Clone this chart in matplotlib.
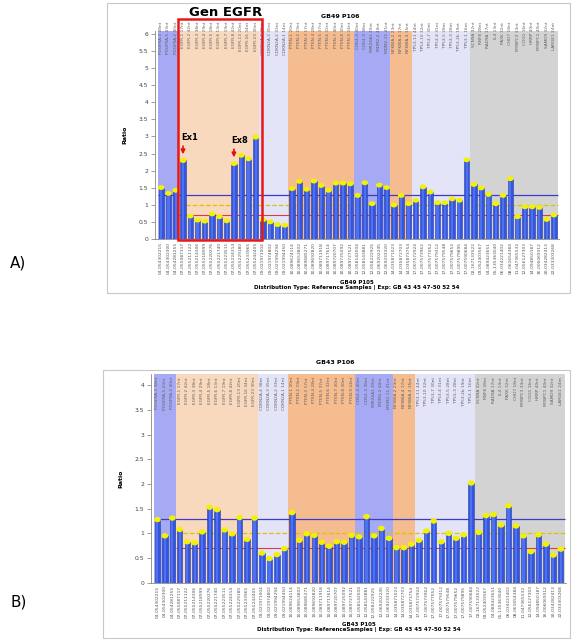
import numpy as np
import matplotlib.pyplot as plt
from matplotlib.patches import Ellipse, Rectangle

# figure size in pixels (dpi 100)
W, H = 573, 643

# probe names (top labels) and chromosome positions (bottom labels)
probes = ["PDGFRA-3 38nt", "PDGFRA-5 43nt", "PDGFRA-2 40nt",
          "EGFR-1 17nt", "EGFR-2 42nt", "EGFR-3 38nt", "EGFR-4 29nt", "EGFR-5 18nt",
          "EGFR-6 13nt", "EGFR-7 19nt", "EGFR-8 42nt", "EGFR-13 20nt", "EGFR-16 34nt",
          "EGFR-23 30nt",
          "CDKN2A-4 38nt", "CDKN2A-3 35nt", "CDKN2A-2 33nt", "CDKN2A-1 14nt",
          "PTEN-1 20nt", "PTEN-2 19nt", "PTEN-3 17nt", "PTEN-4 28nt", "PTEN-5 37nt",
          "PTEN-6 32nt", "PTEN-7 40nt", "PTEN-8 30nt", "PTEN-9 24nt",
          "CDK4-4 40nt", "CDK4-3 38nt", "MIR26A1 49nt", "MDM2-2 40nt", "MDM2-11 41nt",
          "NFKBIA-2 23nt", "NFKBIA-4 17nt", "NFKBIA-3 15nt",
          "TP53-11 44nt", "TP53-10 32nt", "TP53-7 30nt", "TP53-4 31nt", "TP53-5 28nt",
          "TP53-3 28nt", "TP53-2b 19nt", "TP53-1 16nt",
          "SCN9A 32nt", "RNF8 28nt", "RAD9A 17nt", "IL4 13nt", "PAX6 32nt", "CHD7 18nt",
          "MYBPC3 33nt", "COG1 16nt", "HRRP 40nt", "MYBPC1 40nt", "SAMD9 32nt",
          "LARGE1 24nt"]

positions = ["04-054302215", "04-054302300", "04-054281255",
             "07-055087117", "07-055211122", "07-055214306", "07-055218999",
             "07-055220276", "07-055221740", "07-055223511", "07-055224314",
             "07-055229180", "07-055233965", "07-055242405",
             "09-021971004", "09-021974802", "09-021994294", "09-021994450",
             "10-089624114", "10-089653802", "10-089685271", "10-089692820",
             "10-089711918", "10-089717614", "10-089720707", "10-089725092",
             "10-089727521",
             "12-058142004", "12-058143881", "12-058222925", "12-069202245",
             "12-069233320",
             "14-035871023", "14-035872703", "14-035873754",
             "17-007572924", "17-007573962", "17-007577052", "17-007579312",
             "17-007579548", "17-007579652", "17-007579895", "17-007590684",
             "02-167133522", "03-052403567", "04-089423651", "05-135363040",
             "06-034221402", "08-061654384", "11-047365532", "12-056127303",
             "14-094850187", "16-006069312", "20-034282413", "22-033303268"]

# background blocks (number of probes per gene group)
group_sizes = [3, 11, 4, 9, 5, 3, 8, 12]
group_colors = ['#a6aaf4', '#f9d9be', '#e4e4f9', '#f5bc90',
                '#a6aaf4', '#f5bc90', '#e4e4f9', '#d3d3d3']

# ratios
ratio_a = [1.51, 1.34, 1.43,
           2.30, 0.68, 0.56, 0.53, 0.74, 0.66, 0.54, 2.21, 2.45, 2.35, 2.98,
           0.57, 0.51, 0.43, 0.41,
           1.48, 1.69, 1.46, 1.70, 1.57, 1.43, 1.64, 1.64, 1.62,
           1.28, 1.65, 1.04, 1.58, 1.51,
           1.00, 1.28, 1.04,
           1.14, 1.53, 1.38, 1.07, 1.07, 1.18, 1.14, 2.32,
           1.60, 1.50, 1.31, 1.04, 1.28, 1.77, 0.66, 0.95, 0.95, 0.93, 0.58, 0.71]

ratio_b = [1.28, 0.95, 1.31,
           1.08, 0.83, 0.81, 1.03, 1.53, 1.48, 1.07, 0.99, 1.32, 0.88, 1.31,
           0.60, 0.49, 0.57, 0.69,
           1.42, 0.86, 0.99, 0.96, 0.82, 0.74, 0.83, 0.82, 0.96,
           0.93, 1.34, 0.95, 1.10, 0.90,
           0.71, 0.71, 0.78,
           0.86, 1.05, 1.25, 0.83, 1.00, 0.90, 0.97, 2.02,
           1.02, 1.36, 1.38, 1.17, 1.56, 1.15, 0.95, 0.63, 0.97, 0.78, 0.56, 0.68]

upper_limit, mean_line, lower_limit = 1.3, 1.0, 0.7
exon_marks = {"Ex1": 3, "Ex8": 10}


def fx(px):
    return px / W


def fy(py):
    return 1 - py / H


def draw_panel(ax, ratios, ymax, step, cap_h, top_y, bot_pad):
    n = len(ratios)
    x = np.arange(n)

    # coloured gene blocks
    start = -0.5
    for size, col in zip(group_sizes, group_colors):
        ax.axvspan(start, start + size, color=col, lw=0, zorder=0)
        start += size

    # reference lines
    ax.hlines(upper_limit, -0.5, n - 0.5, color='#3c3cc8', lw=0.9, zorder=1)
    ax.hlines(mean_line, 2.5, n - 0.5, color='#d8c400', lw=0.9, ls='--', zorder=1)
    ax.hlines(lower_limit, 2.5, n - 0.5, color='#e03a3a', lw=0.8, zorder=1)

    # bars with yellow caps
    ax.bar(x, ratios, width=0.72, color='#3556dc', edgecolor='#2a3fa8',
           lw=0.4, zorder=3)
    ax.bar(x, ratios, width=0.3, color='#4c72f2', lw=0, zorder=3)
    for xi, v in zip(x, ratios):
        ax.add_patch(Ellipse((xi, v), 0.72, cap_h, color='#f2f200', zorder=4))

    ax.set_xlim(-0.85, n - 0.3)
    ax.set_ylim(0, ymax)
    ticks = np.arange(0, ymax, step)
    ax.set_yticks(ticks)
    ax.set_yticklabels(['%g' % t for t in ticks], fontsize=4.3, color='#444444')
    ax.tick_params(axis='y', length=3, width=0.5, color='#777777', pad=2)
    ax.set_xticks(x)
    ax.set_xticklabels(positions, rotation=90, fontsize=3.2, color='#555555')
    ax.tick_params(axis='x', length=0, pad=bot_pad)
    for s in ['top', 'right']:
        ax.spines[s].set_visible(False)
    for s in ['left', 'bottom']:
        ax.spines[s].set_color('#888888')
        ax.spines[s].set_linewidth(0.6)
    ax.set_ylabel('Ratio', fontsize=4.5, fontweight='bold', labelpad=8)

    # probe names along the top
    for xi, name in zip(x, probes):
        ax.text(xi, top_y, name, rotation=90, fontsize=3.1, color='#606060',
                ha='center', va='top', transform=ax.get_xaxis_transform(),
                clip_on=False, zorder=5)


fig = plt.figure(figsize=(W / 100, H / 100), dpi=100)

# panel frames
for (l, t, r, b) in [(107, 3, 570, 293), (103, 370, 570, 638)]:
    fig.patches.append(Rectangle((fx(l), fy(b)), fx(r - l), (b - t) / H,
                                 transform=fig.transFigure, fill=False,
                                 ec='#c8c8c8', lw=0.8))

# ---- panel A
ax_a = fig.add_axes([fx(155), fy(239.3), fx(559 - 155), 208 / H])
draw_panel(ax_a, ratio_a, 6.07, 0.5, 0.1, 1.045, 2)

for label, idx in exon_marks.items():
    v = ratio_a[idx]
    ax_a.annotate('', xy=(idx, v + 0.1), xytext=(idx, v + 0.5),
                  arrowprops=dict(arrowstyle='-|>', color='#e01010', lw=1.2,
                                  mutation_scale=6), zorder=6)
    ax_a.text(idx - 0.3, v + 0.55, label, fontsize=6, fontweight='bold',
              ha='left', va='bottom', zorder=6)

ax_a.add_patch(Rectangle((2.26, -0.03), 11.64, 6.45, fill=False, ec='#e81818',
                         lw=1.8, clip_on=False, zorder=7))
fig.text(fx(226), fy(13), 'Gen EGFR', fontsize=9.5, fontweight='bold',
         ha='center', va='center')
fig.text(fx(340), fy(16), 'GB49 P106', fontsize=4.5, fontweight='bold',
         ha='center', va='center')
fig.text(fx(357), fy(282), 'GB49 P105', fontsize=4, fontweight='bold',
         ha='center', va='center')
fig.text(fx(357), fy(287), 'Distribution Type: Reference Samples | Exp: GB 43 45 47-50 52 54',
         fontsize=4, fontweight='bold', ha='center', va='center')
fig.text(fx(10), fy(263), 'A)', fontsize=11, ha='left', va='center')

# ---- panel B
ax_b = fig.add_axes([fx(151), fy(582.7), fx(566 - 151), 208.7 / H])
draw_panel(ax_b, ratio_b, 4.23, 0.5, 0.08, 0.985, 2)

fig.text(fx(335), fy(362), 'GB43 P106', fontsize=4.5, fontweight='bold',
         ha='center', va='center')
fig.text(fx(359), fy(625), 'GB43 P105', fontsize=4, fontweight='bold',
         ha='center', va='center')
fig.text(fx(359), fy(630), 'Distribution Type: ReferenceSamples | Exp: GB 43 45 47-50 52 54',
         fontsize=4, fontweight='bold', ha='center', va='center')
fig.text(fx(10), fy(602), 'B)', fontsize=11, ha='left', va='center')

fig.savefig('out.png', dpi=100)
